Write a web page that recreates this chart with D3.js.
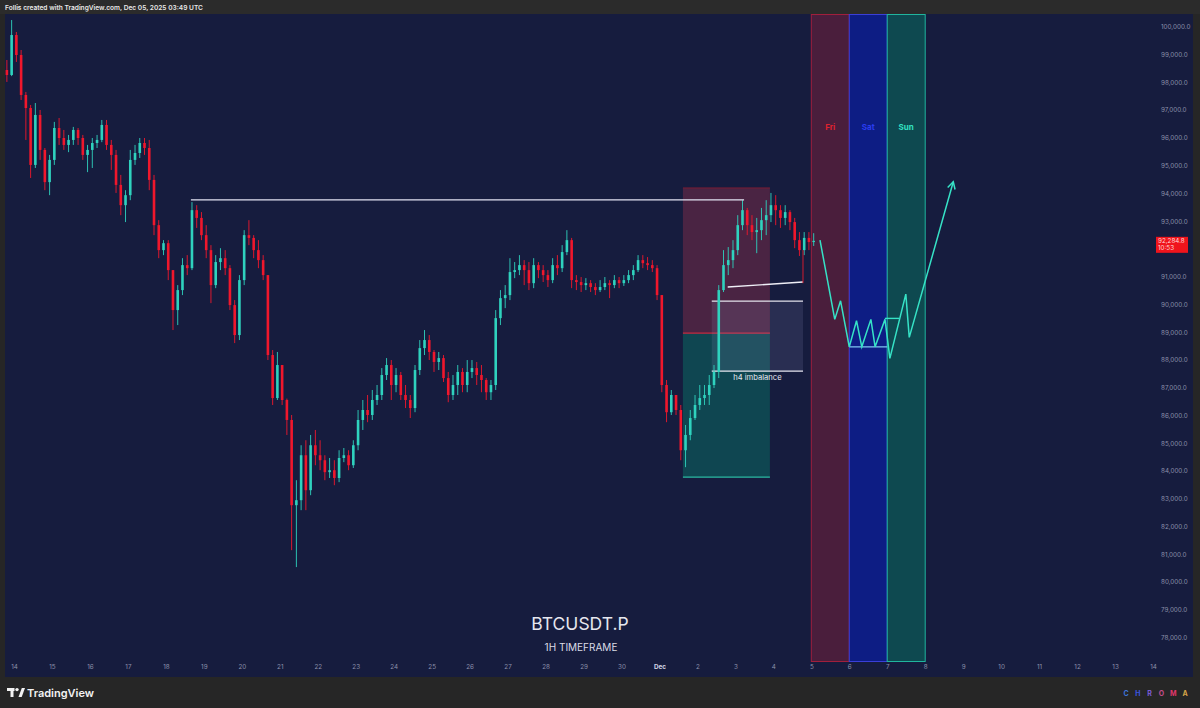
<!DOCTYPE html>
<html><head><meta charset="utf-8">
<script src="https://cdn.jsdelivr.net/npm/d3@7"></script>
<style>
html,body{margin:0;padding:0;background:#262626;}
svg{display:block;font-family:Inter,"Noto Sans",sans-serif;}
</style></head><body>
<svg id="c" width="1200" height="708"></svg>
<script>
// ---------- DATA ----------
const startTime = "2025-11-13T18:00:00Z";   // first 3h bar
const barHours = 3;
const firstOpen = 98440;
const closes = [
98260, 99700, 98980, 97540, 97070, 95020, 96820, 95560, 94400, 95200,
96350, 95990, 95740, 95920, 96280, 95990, 95380, 95560, 95810, 95920,
96460, 95740, 95380, 94300, 93570, 93930, 95200, 95450, 95810, 95630,
94480, 92850, 91950, 92200, 91230, 89790, 90510, 91410, 91300, 93390,
93110, 92490, 91950, 90690, 91520, 91660, 91300, 89970, 88890, 90870,
92490, 92390, 91950, 91590, 91050, 88170, 86620, 87810, 86550, 85830,
82760, 82940, 84560, 83300, 84920, 84560, 84380, 83950, 84020, 83740,
84460, 84560, 84200, 84920, 85830, 86190, 86010, 86550, 86730, 87450,
87810, 87090, 87450, 86730, 86550, 86260, 87630, 88420, 88710, 88280,
87920, 88060, 87340, 86730, 87090, 87560, 87090, 87560, 87700, 87450,
87270, 86830, 87090, 89500, 90220, 90330, 91160, 91230, 91410, 91230,
90760, 91410, 91230, 91050, 90870, 91410, 91300, 91880, 92310, 90870,
90800, 90690, 90760, 90620, 90510, 90620, 90760, 90690, 90870, 90760,
90870, 91050, 91230, 91590, 91480, 91410, 91300, 90330, 87090, 86110,
86730, 86190, 84740, 85290, 85900, 86370, 86620, 86730, 87090, 87560,
90510, 91410, 91590, 91950, 92850, 93390, 92850, 92600, 92670, 93030,
93210, 93570, 93390, 93110, 93320, 92960, 92310, 91950, 92390, 92240,
92284.8
];
const highs = [
98800, 100240, 99810, 99160, 97650, 97180, 97250, 97000, 95630, 95380,
96570, 96710, 96280, 96100, 96390, 96350, 96100, 95740, 95990, 96100,
96640, 96640, 95920, 95560, 94660, 94110, 95560, 95740, 95990, 95990,
95920, 94660, 93030, 92310, 92310, 91230, 90690, 91660, 91770, 93680,
93570, 93320, 92850, 92130, 91770, 92020, 91950, 91410, 90150, 91050,
92670, 93030, 92490, 92310, 91770, 91050, 88350, 88280, 87810, 86600,
86010, 83660, 84920, 85100, 85290, 85470, 85100, 84560, 84460, 84380,
84740, 84820, 84740, 85100, 86190, 86550, 86730, 86910, 87090, 87700,
88060, 87990, 87700, 87560, 87090, 86730, 87810, 88710, 89070, 88890,
88350, 88280, 88170, 87560, 87450, 87810, 87700, 87990, 87990, 87920,
87810, 87340, 87270, 89790, 90510, 90690, 91660, 91520, 91770, 91590,
91520, 91660, 91520, 91410, 91230, 91660, 91770, 92130, 92670, 92390,
91050, 90980, 90940, 90870, 90760, 90870, 90980, 90870, 91050, 90980,
91050, 91230, 91410, 91770, 91770, 91700, 91590, 91410, 90330, 87270,
86910, 86730, 86370, 85650, 86190, 86730, 87090, 87090, 87450, 87810,
90690, 91950, 92060, 92310, 93210, 93750, 93470, 93210, 93110, 93470,
93750, 94010, 93930, 93570, 93570, 93390, 93110, 92600, 92600, 92600,
92560
];
const lows = [
98010, 98220, 98730, 97360, 95920, 94550, 94910, 95200, 94110, 93930,
95020, 95740, 95560, 95480, 95740, 95740, 95200, 94760, 94910, 95630,
95840, 95560, 94840, 94010, 93210, 92960, 93750, 95020, 95270, 95380,
94110, 92490, 91660, 91770, 90870, 89070, 89250, 90330, 91050, 91230,
92750, 92310, 91660, 90040, 90580, 91230, 91050, 89790, 88600, 88710,
90690, 92130, 91660, 91300, 90870, 87990, 86370, 86550, 86370, 85290,
81140, 80530, 82580, 82580, 83120, 84200, 84020, 83660, 83740, 83480,
83590, 84310, 84020, 84100, 84740, 85470, 85750, 85830, 86370, 86550,
87270, 86550, 86830, 86550, 86260, 85900, 86110, 87450, 88170, 87990,
87560, 87630, 87200, 86470, 86550, 86730, 86830, 86830, 87340, 87090,
86830, 86550, 86550, 86910, 89250, 89860, 90150, 90940, 91050, 90690,
90510, 90580, 90940, 90800, 90620, 90760, 91050, 91160, 91770, 90580,
90510, 90440, 90510, 90440, 90330, 90440, 90510, 90220, 90580, 90580,
90660, 90760, 90870, 91160, 91300, 91230, 91160, 90150, 86830, 85750,
86010, 86010, 84380, 84130, 85100, 85830, 86190, 86370, 86370, 86980,
87340, 90440, 91050, 91300, 91770, 92670, 92490, 92310, 91840, 92310,
92490, 92960, 92850, 92750, 92850, 92670, 92020, 91740, 91770, 91950,
92100
];
const lastPrice = 92284.8;
const lastPriceTimer = "10:53";

// 92,000.0 is hidden behind the last-price tag in the reference
const priceTicks = [78000,79000,80000,81000,82000,83000,84000,85000,86000,87000,88000,
  89000,90000,91000,93000,94000,95000,96000,97000,98000,99000,100000];
const dateTicks = ["2025-11-14","2025-11-15","2025-11-16","2025-11-17","2025-11-18","2025-11-19",
  "2025-11-20","2025-11-21","2025-11-22","2025-11-23","2025-11-24","2025-11-25","2025-11-26",
  "2025-11-27","2025-11-28","2025-11-29","2025-11-30","2025-12-01","2025-12-02","2025-12-03",
  "2025-12-04","2025-12-05","2025-12-06","2025-12-07","2025-12-08","2025-12-09","2025-12-10",
  "2025-12-11","2025-12-12","2025-12-13","2025-12-14"];
const dateLabels = ["14","15","16","17","18","19","20","21","22","23","24","25","26","27","28",
  "29","30","Dec","2","3","4","5","6","7","8","9","10","11","12","13","14"];

// annotations
const dayBandNames = ["Fri","Sat","Sun"];
const dayBandStarts = ["2025-12-05","2025-12-06","2025-12-07"];
const dayBandEnds = ["2025-12-06","2025-12-07","2025-12-08"];
const dayBandLabelPrice = 96280;

const resistTimes = ["2025-11-18T15:50:00Z","2025-12-03T05:30:00Z"];
const resistPrice = 93760;

const posTimes = ["2025-12-01T14:50:00Z","2025-12-03T21:50:00Z"];
const posStop = 94190, posEntry = 88960, posTarget = 83770;

const imbTimes = ["2025-12-02T09:05:00Z","2025-12-04T18:45:00Z"];
const imbTop = 90110, imbBottom = 87590;
const imbLabel = "h4 imbalance";

const trendTimes = ["2025-12-02T19:10:00Z","2025-12-04T18:45:00Z"];
const trendPrices = [90620, 90800];
const markTime = "2025-12-04T18:45:00Z";
const markPrices = [91950, 90760];

const projTimes = ["2025-12-05T05:30:00Z","2025-12-05T14:50:00Z","2025-12-05T18:30:00Z",
  "2025-12-06T00:00:00Z","2025-12-06T04:35:00Z","2025-12-06T07:55:00Z","2025-12-06T13:40:00Z",
  "2025-12-06T16:20:00Z","2025-12-06T22:35:00Z","2025-12-07T01:40:00Z","2025-12-07T11:45:00Z",
  "2025-12-07T13:55:00Z","2025-12-08T17:45:00Z"];
const projPrices = [92310, 89455, 90125, 88465, 89405, 88465, 89455, 88465, 89455, 88050,
  90365, 88805, 94414];
const rangeLowTimes = ["2025-12-06T00:00:00Z","2025-12-07T00:00:00Z"];
const rangeLowPrice = 88465;
const rangeHighTimes = ["2025-12-06T22:30:00Z","2025-12-07T07:30:00Z"];
const rangeHighPrice = 89490;

const symbolText = "BTCUSDT.P";
const tfText = "1H TIMEFRAME";
const headerText = "Follis created with TradingView.com, Dec 05, 2025 03:49 UTC";

// ---------- SETUP ----------
const svg = d3.select("#c");
const W = 1200, H = 708;
const plotL = 5, plotR = 1193, plotT = 14, plotB = 677;

const x = d3.scaleUtc()
  .domain([new Date("2025-11-14T00:00:00Z"), new Date("2025-12-14T00:00:00Z")])
  .range([14, 1153]);
const y = d3.scaleLinear().domain([78000, 100000]).range([637.3, 26.7]);

// backgrounds
svg.append("rect").attr("x",0).attr("y",0).attr("width",W).attr("height",H).attr("fill","#262626");
svg.append("rect").attr("x",0).attr("y",0).attr("width",W).attr("height",plotT).attr("fill","#2b2b2b");
svg.append("rect").attr("x",plotL).attr("y",plotT).attr("width",plotR-plotL).attr("height",plotB-plotT)
  .attr("fill","#161c3e");
svg.append("text").attr("x",5).attr("y",10).text(headerText)
  .attr("fill","#e8e8e8").style("font-size","6.6px").style("font-weight","600");

// day bands
const bandFill = ["#4a1e3c","#0d1d84","#0e4950"];
const bandStroke = ["#a11f3c","#3a3fd8","#20b59e"];
const bandText = ["#e0222e","#2a3cf0","#33e0c2"];
dayBandNames.forEach((n,i)=>{
  const x0 = x(new Date(dayBandStarts[i]+"T00:00:00Z")), x1 = x(new Date(dayBandEnds[i]+"T00:00:00Z"));
  svg.append("rect").attr("x",x0).attr("y",plotT+0.5).attr("width",x1-x0).attr("height",661-plotT)
    .attr("fill",bandFill[i]).attr("stroke",bandStroke[i]).attr("stroke-width",1);
  svg.append("text").attr("x",(x0+x1)/2).attr("y",y(dayBandLabelPrice)).attr("text-anchor","middle")
    .attr("fill",bandText[i]).style("font-size","8px").style("font-weight","700").text(n);
});

// position tool boxes
{
  const x0 = x(new Date(posTimes[0])), x1 = x(new Date(posTimes[1]));
  svg.append("rect").attr("x",x0).attr("y",y(posStop)).attr("width",x1-x0).attr("height",y(posEntry)-y(posStop))
    .attr("fill","#4a2443");
  svg.append("rect").attr("x",x0).attr("y",y(posEntry)).attr("width",x1-x0).attr("height",y(posTarget)-y(posEntry))
    .attr("fill","#0f4651");
  svg.append("line").attr("x1",x0).attr("x2",x1).attr("y1",y(posStop)).attr("y2",y(posStop))
    .attr("stroke","#7a1c34").attr("stroke-width",1);
  svg.append("line").attr("x1",x0).attr("x2",x1).attr("y1",y(posEntry)).attr("y2",y(posEntry))
    .attr("stroke","#c62a40").attr("stroke-width",1.2);
  svg.append("line").attr("x1",x0).attr("x2",x1).attr("y1",y(posTarget)).attr("y2",y(posTarget))
    .attr("stroke","#2bb9a2").attr("stroke-width",1.2);
}

// imbalance box
{
  const x0 = x(new Date(imbTimes[0])), x1 = x(new Date(imbTimes[1]));
  svg.append("rect").attr("x",x0).attr("y",y(imbTop)).attr("width",x1-x0).attr("height",y(imbBottom)-y(imbTop))
    .attr("fill","rgba(170,170,215,0.13)");
  [imbTop, imbBottom].forEach(p=>{
    svg.append("line").attr("x1",x0).attr("x2",x1).attr("y1",y(p)).attr("y2",y(p))
      .attr("stroke","#e4e4ee").attr("stroke-width",1.3);
  });
  svg.append("text").attr("x",(x0+x1)/2).attr("y",y(imbBottom)+9).attr("text-anchor","middle")
    .attr("fill","#e6e6f0").style("font-size","7.6px").text(imbLabel);
}

// candles
const t0 = new Date(startTime).getTime();
const candles = closes.map((c,i)=>({
  t: new Date(t0 + (i*barHours + barHours/2)*3600e3),
  o: i===0 ? firstOpen : closes[i-1], h: highs[i], l: lows[i], c
}));
const upCol = "#2fd2be", dnCol = "#f0172c";
const cg = svg.append("g");
const bw = 2.6;
cg.selectAll("line.w").data(candles).join("line")
  .attr("x1",d=>x(d.t)).attr("x2",d=>x(d.t)).attr("y1",d=>y(d.h)).attr("y2",d=>y(d.l))
  .attr("stroke",d=>d.c>=d.o?upCol:dnCol).attr("stroke-width",0.9);
cg.selectAll("rect.b").data(candles).join("rect")
  .attr("x",d=>x(d.t)-bw/2).attr("width",bw)
  .attr("y",d=>y(Math.max(d.o,d.c))).attr("height",d=>Math.max(1,Math.abs(y(d.o)-y(d.c))))
  .attr("fill",d=>d.c>=d.o?upCol:dnCol);

// resistance line
svg.append("line").attr("x1",x(new Date(resistTimes[0]))).attr("x2",x(new Date(resistTimes[1])))
  .attr("y1",y(resistPrice)).attr("y2",y(resistPrice)).attr("stroke","#e2e2f2").attr("stroke-width",1.4);

// trend line + marker
svg.append("line").attr("x1",x(new Date(trendTimes[0]))).attr("x2",x(new Date(trendTimes[1])))
  .attr("y1",y(trendPrices[0])).attr("y2",y(trendPrices[1])).attr("stroke","#eeeef6").attr("stroke-width",1.4);
svg.append("line").attr("x1",x(new Date(markTime))).attr("x2",x(new Date(markTime)))
  .attr("y1",y(markPrices[0])).attr("y2",y(markPrices[1])).attr("stroke","#d01c30").attr("stroke-width",1);

// projection
const projCol = "#36e2c6";
svg.append("line").attr("x1",x(new Date(rangeLowTimes[0]))).attr("x2",x(new Date(rangeLowTimes[1])))
  .attr("y1",y(rangeLowPrice)).attr("y2",y(rangeLowPrice)).attr("stroke","#7fc6f0").attr("stroke-width",1.4);
svg.append("line").attr("x1",x(new Date(rangeHighTimes[0]))).attr("x2",x(new Date(rangeHighTimes[1])))
  .attr("y1",y(rangeHighPrice)).attr("y2",y(rangeHighPrice)).attr("stroke",projCol).attr("stroke-width",1.4);
const pts = projTimes.map((t,i)=>[x(new Date(t)), y(projPrices[i])]);
svg.append("path").attr("d",d3.line()(pts)).attr("fill","none").attr("stroke",projCol).attr("stroke-width",1.5)
  .attr("stroke-linejoin","miter");
{
  const [xa,ya] = pts[pts.length-2], [xb,yb] = pts[pts.length-1];
  const ang = Math.atan2(yb-ya, xb-xa), L = 8, sp = 0.5;
  const p1 = [xb - L*Math.cos(ang-sp), yb - L*Math.sin(ang-sp)];
  const p2 = [xb - L*Math.cos(ang+sp), yb - L*Math.sin(ang+sp)];
  svg.append("path").attr("d",d3.line()([p1,[xb,yb],p2])).attr("fill","none")
    .attr("stroke",projCol).attr("stroke-width",1.5);
}

// texts
svg.append("text").attr("x",580).attr("y",630).attr("text-anchor","middle").text(symbolText)
  .attr("fill","#e6e7ef").style("font-size","17.5px");
svg.append("text").attr("x",581).attr("y",651).attr("text-anchor","middle").text(tfText)
  .attr("fill","#dcdde6").style("font-size","10px");

// price axis
const yAxis = d3.axisRight(y).tickValues(priceTicks).tickFormat(d3.format(",.1f")).tickSize(0).tickPadding(0);
svg.append("g").attr("transform","translate(1161,0)").call(yAxis)
  .call(g=>g.select(".domain").remove())
  .call(g=>g.selectAll("text").attr("fill","#8c91aa").style("font-size","6.3px").style("font-family","Inter"));

// last price tag
{
  const yy = y(lastPrice);
  svg.append("rect").attr("x",1156).attr("y",yy-4).attr("width",32).attr("height",16).attr("fill","#f0141c");
  svg.append("text").attr("x",1158).attr("y",yy+2.2).text(d3.format(",.1f")(lastPrice))
    .attr("fill","#ffd6d6").style("font-size","6.3px");
  svg.append("text").attr("x",1158).attr("y",yy+9.6).text(lastPriceTimer)
    .attr("fill","#ffd6d6").style("font-size","6.3px");
}

// date axis
const xAxis = d3.axisBottom(x).tickValues(dateTicks.map(d=>new Date(d+"T00:00:00Z")))
  .tickFormat((d,i)=>dateLabels[i]).tickSize(0).tickPadding(0);
svg.append("g").attr("transform","translate(0,665)").call(xAxis)
  .call(g=>g.select(".domain").remove())
  .call(g=>g.selectAll("text").attr("fill",(d,i)=>dateLabels[i]==="Dec"?"#d0d3e4":"#8c91aa")
    .style("font-weight",(d,i)=>dateLabels[i]==="Dec"?"700":"400")
    .style("font-size","6.3px").style("font-family","Inter"));

// footer: TradingView logo
{
  const g = svg.append("g").attr("fill","#f2f2f2");
  g.append("rect").attr("x",7).attr("y",688).attr("width",7.5).attr("height",3);
  g.append("rect").attr("x",10.5).attr("y",688).attr("width",3).attr("height",9);
  g.append("circle").attr("cx",17).attr("cy",689.6).attr("r",1.7);
  g.append("path").attr("d","M18.5,697 L21.8,688 L25,688 L21.7,697 Z");
  g.append("text").attr("x",27).attr("y",696.5).text("TradingView")
    .style("font-size","11px").style("font-weight","600");
}
// CHROMA
const chromaLetters = ["C","H","R","O","M","A"];
const chromaColors = ["#3e74d8","#3a56e0","#7b5cd6","#c24c8c","#e0386c","#d6a548"];
chromaLetters.forEach((c,i)=>{
  svg.append("text").attr("x",1126 + i*11.8).attr("y",695.5).attr("text-anchor","middle").text(c)
    .attr("fill",chromaColors[i]).style("font-size","7px").style("font-weight","700");
});
</script>
</body></html>
